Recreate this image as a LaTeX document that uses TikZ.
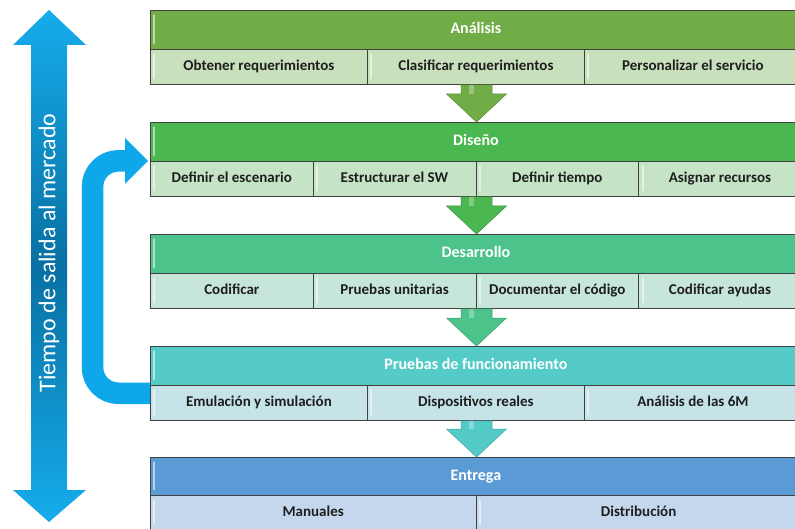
\documentclass[tikz,border=0pt]{standalone}
\usepackage{fontspec}
\setmainfont{Carlito}
\usetikzlibrary{calc}

% phase colours: header fill, cell fill
\definecolor{hA}{RGB}{112,173,71}  \definecolor{cA}{RGB}{201,224,188}
\definecolor{hB}{RGB}{75,183,80}   \definecolor{cB}{RGB}{197,228,198}
\definecolor{hC}{RGB}{77,195,140}  \definecolor{cC}{RGB}{197,230,217}
\definecolor{hD}{RGB}{85,203,200}  \definecolor{cD}{RGB}{198,228,232}
\definecolor{hE}{RGB}{91,155,213}  \definecolor{cE}{RGB}{197,215,237}
\definecolor{boxline}{RGB}{64,64,64}
\definecolor{textdark}{RGB}{30,30,30}
\definecolor{blueA}{RGB}{22,172,236}
\definecolor{blueB}{RGB}{8,112,162}
\definecolor{loopblue}{RGB}{14,168,234}

\tikzset{
  gloss/.style={path picture={
      \draw[white, opacity=.55, line width=2pt, line cap=round]
        ([xshift=4pt,yshift=-5pt]path picture bounding box.north west) --
        ([xshift=4pt,yshift=6pt]path picture bounding box.south west);}},
  head/.style={draw=boxline, line width=0.8pt, anchor=north west, inner sep=0pt,
    minimum width=651pt, minimum height=39pt, text=white,
    text height=11.5pt, text depth=3.5pt,
    font=\bfseries\fontsize{16}{19}\selectfont, gloss},
  cell/.style={draw=boxline, line width=0.8pt, anchor=north west, inner sep=0pt,
    minimum height=35pt, text=textdark,
    text height=11pt, text depth=3.2pt,
    font=\bfseries\fontsize{15}{18}\selectfont, gloss},
  third/.style={cell, minimum width=217pt},
  quarter/.style={cell, minimum width=162.75pt},
  half/.style={cell, minimum width=325.5pt},
  flow/.style={fill=#1, draw=#1!80!black, line width=0.5pt},
}

% down arrow between two phases, through the column (col)
\newcommand\phasearrow[3]{%
  \path (#1.south -| col) coordinate (s) (#2.north -| col) coordinate (e);
  \filldraw[flow=#3] ($(s)+(-15.5,0)$) -- ($(s)+(15.5,0)$) -- ($(e)+(15.5,-28)$)
    -- ($(e)+(30,-28)$) -- (e) -- ($(e)+(-30,-28)$) -- ($(e)+(-15.5,-28)$) -- cycle;
  \fill[white, opacity=.3] ($(s)+(-8,0)$) rectangle ($(e)+(-3,-28)$);
}

\begin{document}
\begin{tikzpicture}[x=1pt, y=-1pt]
\useasboundingbox (0,0) rectangle (795,529);
\clip (0,0) rectangle (795,529);

% Análisis
\node[head, fill=hA] (A) at (150,10) {Análisis};
\node[third, fill=cA] (A1) at (150,49) {Obtener requerimientos};
\node[third, fill=cA] (A2) at (367,49) {Clasificar requerimientos};
\node[third, fill=cA] (A3) at (584,49) {Personalizar el servicio};

% Diseño
\node[head, fill=hB] (B) at (150,122) {Diseño};
\node[quarter, fill=cB] (B1) at (150,161) {Definir el escenario};
\node[quarter, fill=cB] (B2) at (312.75,161) {Estructurar el SW};
\node[quarter, fill=cB] (B3) at (475.5,161) {Definir tiempo};
\node[quarter, fill=cB] (B4) at (638.25,161) {Asignar recursos};

% Desarrollo
\node[head, fill=hC] (C) at (150,234) {Desarrollo};
\node[quarter, fill=cC] (C1) at (150,273) {Codificar};
\node[quarter, fill=cC] (C2) at (312.75,273) {Pruebas unitarias};
\node[quarter, fill=cC] (C3) at (475.5,273) {Documentar el código};
\node[quarter, fill=cC] (C4) at (638.25,273) {Codificar ayudas};

% Pruebas de funcionamiento
\node[head, fill=hD] (D) at (150,346) {Pruebas de funcionamiento};
\node[third, fill=cD] (D1) at (150,385) {Emulación y simulación};
\node[third, fill=cD] (D2) at (367,385) {Dispositivos reales};
\node[third, fill=cD] (D3) at (584,385) {Análisis de las 6M};

% Entrega
\node[head, fill=hE, minimum height=38pt] (E) at (150,457) {Entrega};
\node[half, fill=cE] (E1) at (150,495) {Manuales};
\node[half, fill=cE] (E2) at (475.5,495) {Distribución};

% arrows from one phase to the next
\coordinate (col) at (476.5,0);
\phasearrow{A2}{B}{hA}
\phasearrow{B3}{C}{hB}
\phasearrow{C3}{D}{hC}
\phasearrow{D2}{E}{hD}

% feedback loop from testing back to design
\coordinate (ls) at ($(D.south west)+(0,7.5)$);
\coordinate (le) at ($(B.south west)+(-2,-1)$);
\draw[loopblue, line width=21.5pt, rounded corners=26pt]
  (ls) -- ($(ls)+(-57.5,0)$) -- ($(le)+(-55.5,0)$) -- ($(le)+(-22,0)$);
\fill[loopblue] ($(le)+(-23,-23)$) -- (le) -- ($(le)+(-23,23)$) -- cycle;

% time-to-market double arrow
\shade[top color=blueA, bottom color=blueA, middle color=blueB]
  (49,10) -- (86,45) -- (67,45) -- (67,490) -- (86,490) -- (49,522)
  -- (13,490) -- (31,490) -- (31,45) -- (13,45) -- cycle;
\node[rotate=90, text=white, font=\fontsize{24}{28}\selectfont, inner sep=0pt]
  (tm) at (49,253) {Tiempo de salida al mercado};
\end{tikzpicture}
\end{document}
